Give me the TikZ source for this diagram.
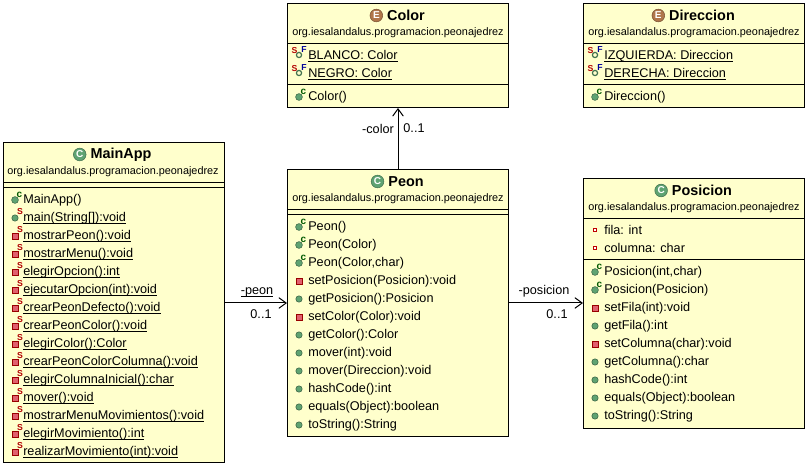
\documentclass[tikz,border=0pt]{standalone}
\usepackage{fontspec}
\usepackage{xcolor}
\usepackage{tikz}
\usetikzlibrary{fit, positioning, arrows.meta}
\setmainfont{Liberation Sans}

\definecolor{boxfill}{HTML}{FFFFCC}
\definecolor{pubgreen}{HTML}{5FA372}
\definecolor{privred}{HTML}{E0606E}
\definecolor{enumbrown}{HTML}{B0764A}

\newcommand{\ulin}[1]{\underline{\smash{#1}}}

\tikzset{
  classbox/.style={draw=black, fill=boxfill, line width=0.75pt, inner sep=0pt},
  titletext/.style={font=\fontsize{10.8}{12}\selectfont\bfseries, inner sep=0pt},
  pkgtext/.style={font=\fontsize{8.15}{10}\selectfont, inner sep=0pt},
  member/.style={font=\fontsize{9.5}{11}\selectfont, anchor=base west, inner sep=0pt},
  assoc/.style={font=\fontsize{9.5}{11}\selectfont, anchor=base, inner sep=0pt},
  link/.style={line width=0.75pt, -{Straight Barb[length=5.5pt, width=8pt]}},
  marktext/.style={font=\fontsize{6.5}{7}\selectfont\bfseries, inner sep=0pt},
  headicon/.style={circle, draw=#1!70!black, fill=#1, text=white, minimum size=9.5pt, inner sep=0pt, font=\fontsize{7.5}{8}\selectfont\bfseries},
  pubm/.pic={\fill[pubgreen, draw=pubgreen!60!black, line width=0.4pt] (0,1) circle (3.2);},
  privm/.pic={\fill[privred, draw=red!60!black, line width=0.4pt] (-3,-2) rectangle (3,4);},
  cons/.pic={\fill[pubgreen, draw=pubgreen!60!black, line width=0.4pt] (0,1) circle (3.4);
    \node[marktext, text=green!35!black, font=\fontsize{7.5}{8}\selectfont\bfseries] at (4.5,-4.5) {c};},
  spub/.pic={\fill[pubgreen, draw=pubgreen!60!black, line width=0.4pt] (0,1) circle (3.2);
    \node[marktext, text=red!70!black] at (5,-5) {S};},
  spriv/.pic={\fill[privred, draw=red!60!black, line width=0.4pt] (-3,-2) rectangle (3,4);
    \node[marktext, text=red!70!black] at (5,-5) {S};},
  field/.pic={\fill[white, draw=red!75!black, line width=1pt] (-1.8,-1.8) rectangle (1.8,1.8);},
  sfield/.pic={\draw[pubgreen!70!black, line width=0.9pt] (0,0) circle (2.6);
    \node[marktext, text=red!70!black] at (-4.5,-4) {S};
    \node[marktext, text=blue!60!black] at (5,-5) {F};},
}

\begin{document}
\begin{tikzpicture}[x=0.75pt, y=-0.75pt]
\useasboundingbox (0,0) rectangle (808,466);
% boxes
\node[classbox, fit={(3.5,142.5) (224.5,462.5)}] (mainapp) {};
\node[classbox, fit={(287.5,3.5) (508.5,107.5)}] (color) {};
\node[classbox, fit={(583.5,3.5) (804.5,107.5)}] (direccion) {};
\node[classbox, fit={(287.5,169.5) (508.5,436.5)}] (peon) {};
\node[classbox, fit={(583.5,178.5) (804.5,428.5)}] (posicion) {};
% titles
\foreach \nm/\cx/\ty/\txt/\cl/\ltr in {mainapp/121/154.5/MainApp/pubgreen/C, color/406/15.5/Color/enumbrown/E, direccion/702/15.5/Direccion/enumbrown/E, peon/406/181.5/Peon/pubgreen/C, posicion/702/190.5/Posicion/pubgreen/C}{
  \node[titletext] (\nm title) at (\cx,\ty) {\txt};
  \node[headicon=\cl, left=3pt of \nm title] (\nm icon) {\ltr};
}
% package lines
\foreach \nm/\cx/\ty in {mainapp/113/172, color/398/33, direccion/694/33, peon/398/199, posicion/694/208}{
  \node[pkgtext] (\nm pkg) at (\cx,\ty) {org.iesalandalus.programacion.peonajedrez};
}
% compartment lines
\foreach \nm/\ly in {mainapp/182.5, mainapp/187.5, color/43.5, color/84.5, direccion/43.5, direccion/84.5, peon/209.5, peon/214.5, posicion/218.5, posicion/259.5}{
  \draw[line width=0.75pt] (\nm.west |- 0,\ly) -- (\nm.east |- 0,\ly);
}
% MainApp
\foreach \ly/\ic/\txt in {199/cons/{MainApp()}, 217/spub/{\ulin{main(String[]):void}}, 235/spriv/{\ulin{mostrarPeon():void}}, 253/spriv/{\ulin{mostrarMenu():void}}, 271/spriv/{\ulin{elegirOpcion():int}}, 289/spriv/{\ulin{ejecutarOpcion(int):void}}, 307/spriv/{\ulin{crearPeonDefecto():void}}, 325/spriv/{\ulin{crearPeonColor():void}}, 343/spriv/{\ulin{elegirColor():Color}}, 361/spriv/{\ulin{crearPeonColorColumna():void}}, 379/spriv/{\ulin{elegirColumnaInicial():char}}, 397/spriv/{\ulin{mover():void}}, 415/spriv/{\ulin{mostrarMenuMovimientos():void}}, 433/spriv/{\ulin{elegirMovimiento():int}}, 451/spriv/{\ulin{realizarMovimiento(int):void}}}{
  \pic at (15,\ly) {\ic};
  \node[member] at (23,\ly+4.7) {\txt};
}
% Peon
\foreach \ly/\ic/\txt in {226/cons/{Peon()}, 244/cons/{Peon(Color)}, 262/cons/{Peon(Color,char)}, 280/privm/{setPosicion(Posicion):void}, 298/pubm/{getPosicion():Posicion}, 316/privm/{setColor(Color):void}, 334/pubm/{getColor():Color}, 352/pubm/{mover(int):void}, 370/pubm/{mover(Direccion):void}, 388/pubm/{hashCode():int}, 406/pubm/{equals(Object):boolean}, 424/pubm/{toString():String}}{
  \pic at (299,\ly) {\ic};
  \node[member] at (308,\ly+4.7) {\txt};
}
% Posicion
\foreach \ly/\ic/\txt in {271/cons/{Posicion(int,char)}, 289/cons/{Posicion(Posicion)}, 307/privm/{setFila(int):void}, 325/pubm/{getFila():int}, 343/privm/{setColumna(char):void}, 361/pubm/{getColumna():char}, 379/pubm/{hashCode():int}, 397/pubm/{equals(Object):boolean}, 415/pubm/{toString():String}}{
  \pic at (595,\ly) {\ic};
  \node[member] at (604,\ly+4.7) {\txt};
}
\foreach \ly/\txt in {230/{fila: int}, 248/{columna: char}}{
  \pic at (595,\ly) {field};
  \node[member] at (604,\ly+4.7) {\txt};
}
% enums
\foreach \tx/\ly/\txt in {308/55/{BLANCO: Color}, 308/73/{NEGRO: Color}, 604/55/{IZQUIERDA: Direccion}, 604/73/{DERECHA: Direccion}}{
  \pic at (\tx-9,\ly) {sfield};
  \node[member] at (\tx,\ly+4.7) {\ulin{\txt}};
}
\pic at (299,96) {cons};
\node[member] at (308,100.7) {Color()};
\pic at (595,96) {cons};
\node[member] at (604,100.7) {Direccion()};
% associations
\draw[link] (mainapp.east |- peon.west) -- (peon.west);
\draw[link] (peon.east) -- (peon.east -| posicion.west);
\draw[link] (peon) -- (color);
\node[assoc] (lblpeon) at (257,294.5) {\ulin{-peon}};
\node[assoc] (mulpeon) at (261,318.5) {0..1};
\node[assoc] (lblposicion) at (544,294.5) {-posicion};
\node[assoc] (mulposicion) at (557,318.5) {0..1};
\node[assoc] (lblcolor) at (378,133.5) {-color};
\node[assoc] (mulcolor) at (414,132.5) {0..1};
\end{tikzpicture}
\end{document}
